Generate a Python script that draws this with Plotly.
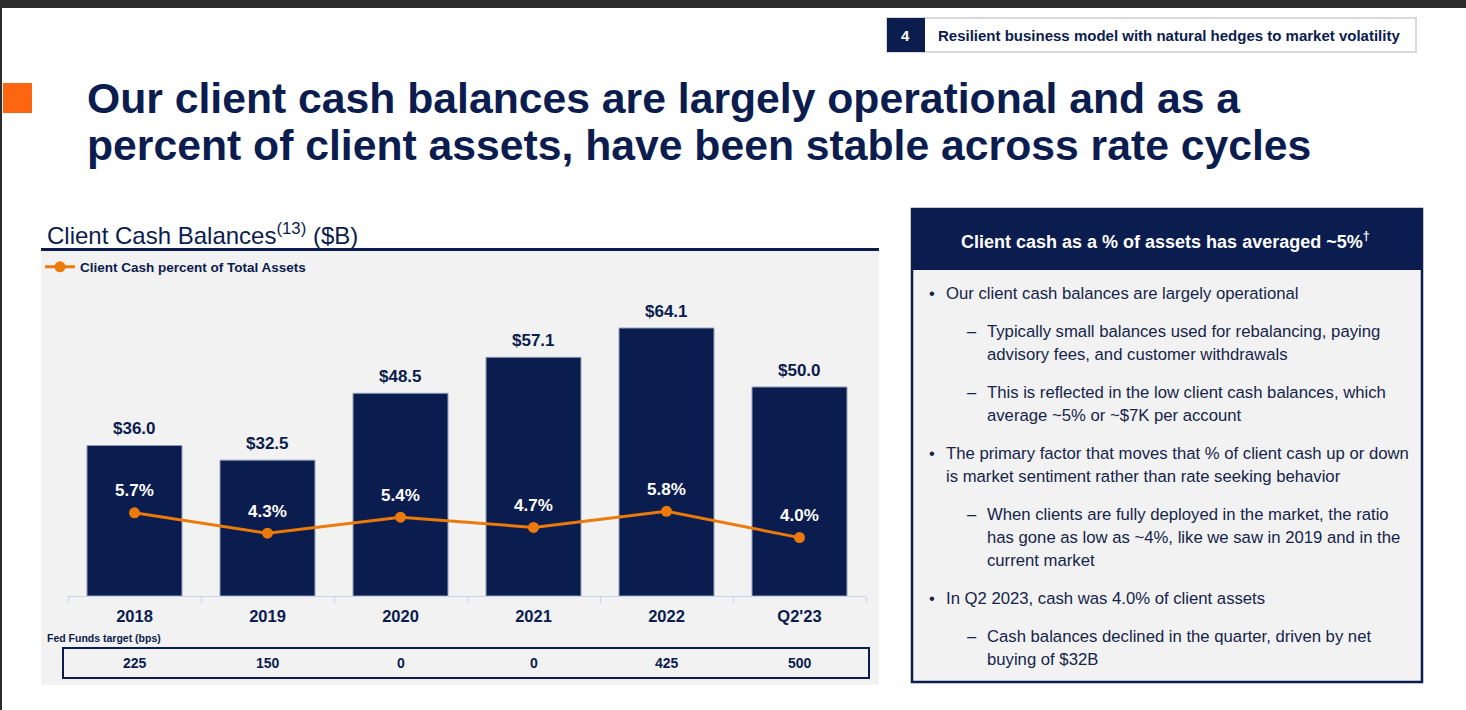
import plotly.graph_objects as go
from plotly.subplots import make_subplots

# ---------------- data ----------------
categories = ["2018", "2019", "2020", "2021", "2022", "Q2'23"]
cash_balances = [36.0, 32.5, 48.5, 57.1, 64.1, 50.0]          # $B
cash_pct = [5.7, 4.3, 5.4, 4.7, 5.8, 4.0]                     # % of total assets
fed_funds_bps = [225, 150, 0, 0, 425, 500]

title_lines = ["Our client cash balances are largely operational and as a",
               "percent of client assets, have been stable across rate cycles"]
tag_number = "4"
tag_text = "Resilient business model with natural hedges to market volatility"
chart_title = "Client Cash Balances<sup>(13)</sup> ($B)"
series_name = "Client Cash percent of Total Assets"
fed_label = "Fed Funds target (bps)"
panel_header = "Client cash as a % of assets has averaged ~5%<sup>†</sup>"
panel_paragraphs = [
    (0, ["Our client cash balances are largely operational"]),
    (1, ["Typically small balances used for rebalancing, paying",
         "advisory fees, and customer withdrawals"]),
    (1, ["This is reflected in the low client cash balances, which",
         "average ~5% or ~$7K per account"]),
    (0, ["The primary factor that moves that % of client cash up or down",
         "is market sentiment rather than rate seeking behavior"]),
    (1, ["When clients are fully deployed in the market, the ratio",
         "has gone as low as ~4%, like we saw in 2019 and in the",
         "current market"]),
    (0, ["In Q2 2023, cash was 4.0% of client assets"]),
    (1, ["Cash balances declined in the quarter, driven by net",
         "buying of $32B"]),
]

# ---------------- style ----------------
W, H = 1466, 710
NAVY = "#0b1c4e"
TEXT_NAVY = "#15244a"
ORANGE_LINE = "#ec7a0a"
ORANGE_SQ = "#fe6511"
PANEL_BG = "#f2f2f2"
FONT = "Arial, 'Liberation Sans', sans-serif"


def px(x):
    return x / W


def py(y):
    return 1 - y / H


PLOT_LEFT, PLOT_RIGHT = 68, 866
PLOT_TOP, PLOT_BOTTOM = 300, 596
plot_h = PLOT_BOTTOM - PLOT_TOP
Y1_MAX = plot_h / 4.18
Y2_MAX = plot_h / 14.6

fig = make_subplots(specs=[[{"secondary_y": True}]])

fig.add_trace(go.Bar(
    x=categories, y=cash_balances, width=0.714,
    marker=dict(color=NAVY, line=dict(color="#8d9ab8", width=1)),
    showlegend=False, hoverinfo="skip"), secondary_y=False)

fig.add_trace(go.Scatter(
    x=categories, y=cash_pct, mode="lines+markers", name=series_name,
    line=dict(color=ORANGE_LINE, width=3),
    marker=dict(color=ORANGE_LINE, size=11),
    hoverinfo="skip"), secondary_y=True)

shapes = []
ann = []

# page frame
shapes.append(dict(type="rect", xref="paper", yref="paper", x0=0, x1=1, y0=py(8), y1=1,
                   fillcolor="#2b2b2b", line_width=0, layer="below"))
shapes.append(dict(type="rect", xref="paper", yref="paper", x0=0, x1=px(2), y0=0, y1=1,
                   fillcolor="#2b2b2b", line_width=0, layer="below"))

# orange square + title
shapes.append(dict(type="rect", xref="paper", yref="paper", x0=px(3), x1=px(32), y0=py(113), y1=py(83),
                   fillcolor=ORANGE_SQ, line_width=0, layer="below"))
for t, yy in zip(title_lines, [98, 145]):
    ann.append(dict(text=t, x=px(85), y=py(yy), xref="paper", yref="paper", xanchor="left",
                    yanchor="middle", showarrow=False,
                    font=dict(family=FONT, size=42.7, color=NAVY, weight="bold")))

# top-right tag
shapes.append(dict(type="rect", xref="paper", yref="paper", x0=px(887), x1=px(1416), y0=py(52), y1=py(18),
                   fillcolor="white", line=dict(color="#d9d9d9", width=2), layer="below"))
shapes.append(dict(type="rect", xref="paper", yref="paper", x0=px(887), x1=px(925), y0=py(52), y1=py(18),
                   fillcolor=NAVY, line_width=0, layer="below"))
ann.append(dict(text=tag_number, x=px(906), y=py(35), xref="paper", yref="paper", showarrow=False,
                xanchor="center", yanchor="middle",
                font=dict(family=FONT, size=15, color="white", weight="bold")))
ann.append(dict(text=tag_text, x=px(936), y=py(35), xref="paper", yref="paper", showarrow=False,
                xanchor="left", yanchor="middle",
                font=dict(family=FONT, size=15, color=NAVY, weight="bold")))

# chart section header + panel
ann.append(dict(text=chart_title, x=px(45), y=py(234), xref="paper", yref="paper", showarrow=False,
                xanchor="left", yanchor="middle",
                font=dict(family=FONT, size=24, color=NAVY)))
shapes.append(dict(type="rect", xref="paper", yref="paper", x0=px(41), x1=px(879), y0=py(685), y1=py(251),
                   fillcolor=PANEL_BG, line_width=0, layer="below"))
shapes.append(dict(type="rect", xref="paper", yref="paper", x0=px(41), x1=px(879), y0=py(251), y1=py(248),
                   fillcolor=NAVY, line_width=0, layer="below"))

# value labels above bars (x given as category index on the category axis)
for i, v in enumerate(cash_balances):
    ann.append(dict(text=f"${v:.1f}", x=i, y=v, xref="x", yref="y", showarrow=False,
                    yanchor="middle", yshift=17,
                    font=dict(family=FONT, size=17, color=NAVY, weight="bold")))
# percent labels above markers
for i, p in enumerate(cash_pct):
    ann.append(dict(text=f"{p:.1f}%", x=i, y=p, xref="x", yref="y2", showarrow=False,
                    yanchor="middle", yshift=22,
                    font=dict(family=FONT, size=17, color="white", weight="bold")))

# fed funds table
ann.append(dict(text=fed_label, x=px(45), y=py(638), xref="paper", yref="paper", showarrow=False,
                xanchor="left", yanchor="middle",
                font=dict(family=FONT, size=10.5, color=NAVY, weight="bold")))
shapes.append(dict(type="rect", xref="paper", yref="paper", x0=px(63), x1=px(869), y0=py(678), y1=py(648),
                   fillcolor="rgba(0,0,0,0)", line=dict(color=NAVY, width=2)))
for i, f in enumerate(fed_funds_bps):
    ann.append(dict(text=str(f), x=i, y=py(663), xref="x", yref="paper", showarrow=False,
                    yanchor="middle",
                    font=dict(family=FONT, size=14, color=NAVY, weight="bold")))

# right panel
shapes.append(dict(type="rect", xref="paper", yref="paper", x0=px(912), x1=px(1422), y0=py(682), y1=py(209),
                   fillcolor=PANEL_BG, line=dict(color=NAVY, width=2.5), layer="below"))
shapes.append(dict(type="rect", xref="paper", yref="paper", x0=px(911), x1=px(1423), y0=py(270), y1=py(208),
                   fillcolor=NAVY, line_width=0, layer="below"))
ann.append(dict(text=panel_header, x=px(1165), y=py(240), xref="paper", yref="paper", showarrow=False,
                xanchor="center", yanchor="middle",
                font=dict(family=FONT, size=18, color="white", weight="bold")))

y_cur = 293
first = True
for level, lines in panel_paragraphs:
    if not first:
        y_cur += 38
    first = False
    mark_x, text_x = (927, 944) if level == 0 else (965, 985)
    ann.append(dict(text="•" if level == 0 else "–", x=px(mark_x), y=py(y_cur), xref="paper", yref="paper",
                    showarrow=False, xanchor="left", yanchor="middle",
                    font=dict(family=FONT, size=16.5, color=TEXT_NAVY)))
    for i, line in enumerate(lines):
        if i > 0:
            y_cur += 23
        ann.append(dict(text=line, x=px(text_x), y=py(y_cur), xref="paper", yref="paper",
                        showarrow=False, xanchor="left", yanchor="middle",
                        font=dict(family=FONT, size=16.7, color=TEXT_NAVY)))

fig.update_layout(
    width=W, height=H, autosize=False,
    margin=dict(l=0, r=0, t=0, b=0, pad=0),
    paper_bgcolor="white", plot_bgcolor="rgba(0,0,0,0)",
    font=dict(family=FONT, color=NAVY),
    shapes=shapes, annotations=ann,
    showlegend=True,
    legend=dict(x=px(40), y=py(267), xanchor="left", yanchor="middle",
                bgcolor="rgba(0,0,0,0)", itemwidth=30,
                font=dict(family=FONT, size=13.5, color=NAVY, weight="bold")),
    bargap=0.286,
)
fig.update_xaxes(type="category", categoryorder="array", categoryarray=categories,
                 range=[-0.5, len(categories) - 0.5], autorange=False,
                 domain=[px(PLOT_LEFT), px(PLOT_RIGHT)], showline=True,
                 linecolor="#c5d3ee", linewidth=1,
                 ticks="outside", tickson="boundaries", ticklen=6, tickcolor="#c5d3ee",
                 ticklabelstandoff=5,
                 showgrid=False, zeroline=False,
                 tickfont=dict(family=FONT, size=16.5, color=NAVY, weight="bold"))
fig.update_yaxes(domain=[py(PLOT_BOTTOM), py(PLOT_TOP)], range=[0, Y1_MAX], visible=False,
                 showgrid=False, zeroline=False, secondary_y=False)
fig.update_yaxes(range=[0, Y2_MAX], visible=False, showgrid=False, zeroline=False, secondary_y=True)

fig.write_html("out.html", config={"displayModeBar": False},
               post_script="document.body.style.margin='0';document.body.style.overflow='hidden';")
